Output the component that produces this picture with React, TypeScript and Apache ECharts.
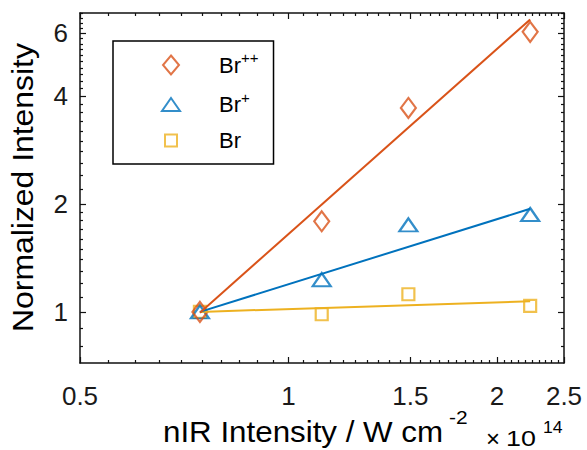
import React, { useEffect, useRef } from 'react';
import * as echarts from 'echarts';

// nIR intensity (x 10^14 W cm^-2)
const intensity = [0.745, 1.117, 1.49, 2.234];
// normalized ion yields
const brPP = [1.0, 1.79, 3.71, 6.05];
const brP = [1.0, 1.23, 1.75, 1.87];
const br = [1.0, 0.985, 1.12, 1.04];
// power-law fit lines (end points)
const fitX = [0.745, 2.234];
const fitBrPP = [0.995, 6.55];
const fitBrP = [1.0, 1.94];
const fitBr = [1.0, 1.07];
// axis ticks
const xMajor = [0.5, 1, 1.5, 2, 2.5];
const yMajor = [1, 2, 4, 6];

const C_PP = '#D95319';
const C_P = '#0072BD';
const C_BR = '#EDB120';
const FONT = '"Liberation Sans", Arial, Helvetica, sans-serif';
const AX = '#111';

function steps(a: number, b: number, s: number): number[] {
  const out: number[] = [];
  for (let v = a; v <= b + 1e-9; v += s) out.push(Math.round(v * 1000) / 1000);
  return out;
}
const notMajor = (maj: number[]) => (v: number) => !maj.some((m) => Math.abs(m - v) < 1e-6);
const xMinor = steps(0.55, 2.45, 0.05).filter(notMajor(xMajor));
const yMinor = [...steps(0.8, 1.9, 0.1), ...steps(2.2, 6.8, 0.2)].filter(notMajor(yMajor));

const pairs = (xs: number[], ys: number[]) => xs.map((x, i) => [x, ys[i]]);

function xAxisDef(position: 'bottom' | 'top', major: boolean, labels: boolean) {
  return {
    type: 'log',
    logBase: 10,
    min: 0.5,
    max: 2.5,
    gridIndex: 0,
    position,
    splitLine: { show: false },
    axisLine: { show: major, lineStyle: { color: AX, width: 1.5 } },
    axisTick: {
      show: true,
      inside: true,
      length: major ? 6 : 3,
      customValues: major ? xMajor : xMinor,
      lineStyle: { color: AX, width: 1.2 },
    },
    axisLabel: labels
      ? {
          show: true,
          customValues: xMajor,
          margin: 20,
          fontSize: 26,
          fontFamily: FONT,
          color: '#1a1a1a',
          formatter: (v: number) => String(Math.round(v * 100) / 100),
        }
      : { show: false },
  };
}

function yAxisDef(position: 'left' | 'right', major: boolean, labels: boolean) {
  return {
    type: 'log',
    logBase: 10,
    min: 0.72,
    max: 6.83,
    gridIndex: 0,
    position,
    splitLine: { show: false },
    axisLine: { show: major, lineStyle: { color: AX, width: 1.5 } },
    axisTick: {
      show: true,
      inside: true,
      length: major ? 6 : 3,
      customValues: major ? yMajor : yMinor,
      lineStyle: { color: AX, width: 1.2 },
    },
    axisLabel: labels
      ? {
          show: true,
          customValues: yMajor,
          margin: 12,
          fontSize: 26,
          fontFamily: FONT,
          color: '#1a1a1a',
          formatter: (v: number) => String(Math.round(v * 100) / 100),
        }
      : { show: false },
  };
}

function scatter(name: string, ys: number[], color: string, symbol: string, size: number[] | number) {
  return {
    type: 'scatter',
    name,
    xAxisIndex: 0,
    yAxisIndex: 0,
    data: pairs(intensity, ys),
    symbol,
    symbolSize: size,
    itemStyle: { color: 'rgba(0,0,0,0)', borderColor: color, borderWidth: 2.2 },
    emphasis: { disabled: true },
  };
}

function fit(name: string, ys: number[], color: string) {
  return {
    type: 'line',
    name,
    xAxisIndex: 0,
    yAxisIndex: 0,
    data: pairs(fitX, ys),
    showSymbol: false,
    symbol: 'none',
    lineStyle: { color, width: 2 },
    itemStyle: { color },
    emphasis: { disabled: true },
  };
}

export default function App() {
  const ref = useRef<HTMLDivElement>(null);
  useEffect(() => {
    if (!ref.current) return;
    document.body.style.margin = '0';
    const chart = echarts.init(ref.current, undefined, { renderer: 'svg' });
    const option: any = {
      animation: false,
      backgroundColor: '#fff',
      grid: { left: 80, top: 13, width: 484, height: 350, containLabel: false, outerBoundsMode: 'none' },
      xAxis: [
        xAxisDef('bottom', true, true),
        xAxisDef('bottom', false, false),
        xAxisDef('top', true, false),
        xAxisDef('top', false, false),
      ],
      yAxis: [
        yAxisDef('left', true, true),
        yAxisDef('left', false, false),
        yAxisDef('right', true, false),
        yAxisDef('right', false, false),
      ],
      legend: {
        show: true,
        orient: 'vertical',
        left: 113,
        top: 41,
        padding: [9, 15, 12, 47],
        itemGap: 13,
        itemWidth: 20,
        itemHeight: 21,
        borderColor: '#000',
        borderWidth: 1.5,
        backgroundColor: '#fff',
        selectedMode: false,
        data: [
          {
            name: 'Br++',
            icon: 'path://M0,0M20,21M10,1L18,10.5L10,20L2,10.5Z',
            itemStyle: { color: 'rgba(0,0,0,0)', borderColor: C_PP, borderWidth: 2 },
          },
          {
            name: 'Br+',
            icon: 'path://M0,0M20,21M10,4L19,17L1,17Z',
            itemStyle: { color: 'rgba(0,0,0,0)', borderColor: C_P, borderWidth: 2 },
          },
          {
            name: 'Br',
            icon: 'path://M0,0M20,21M4,4.5L16,4.5L16,16.5L4,16.5Z',
            itemStyle: { color: 'rgba(0,0,0,0)', borderColor: C_BR, borderWidth: 2 },
          },
        ],
        formatter: (name: string) => {
          const sup = name.slice(2);
          return sup ? `{sp|}{b|Br}{s|${sup}}` : '{sp|}{b|Br}';
        },
        textStyle: {
          fontFamily: FONT,
          color: '#000',
          rich: {
            sp: { width: 33 },
            b: { fontSize: 22, lineHeight: 30, fontFamily: FONT, color: '#000' },
            s: { fontSize: 15, lineHeight: 12, verticalAlign: 'top', fontFamily: FONT, color: '#000' },
          },
        },
      },
      graphic: [
        {
          type: 'text',
          x: 23,
          y: 187.5,
          rotation: Math.PI / 2,
          scaleX: 1.1,
          style: {
            text: 'Normalized Intensity',
            fontSize: 29,
            fontFamily: FONT,
            fill: '#000',
            align: 'center',
            verticalAlign: 'middle',
          },
        },
        {
          type: 'text',
          x: 163,
          y: 432,
          scaleX: 1.08,
          style: {
            text: 'nIR Intensity / W cm',
            fontSize: 29,
            fontFamily: FONT,
            fill: '#000',
            align: 'left',
            verticalAlign: 'middle',
          },
        },
        {
          type: 'text',
          x: 449,
          y: 417.5,
          scaleX: 1.1,
          style: { text: '-2', fontSize: 19, fontFamily: FONT, fill: '#000', align: 'left', verticalAlign: 'middle' },
        },
        {
          type: 'text',
          x: 486,
          y: 438,
          style: { text: '×', fontSize: 24, fontFamily: FONT, fill: '#000', align: 'left', verticalAlign: 'middle' },
        },
        {
          type: 'text',
          x: 506,
          y: 438.5,
          scaleX: 1.22,
          style: { text: '10', fontSize: 22, fontFamily: FONT, fill: '#000', align: 'left', verticalAlign: 'middle' },
        },
        {
          type: 'text',
          x: 543,
          y: 428,
          scaleX: 1.1,
          style: { text: '14', fontSize: 16, fontFamily: FONT, fill: '#000', align: 'left', verticalAlign: 'middle' },
        },
      ],
      series: [
        scatter('Br', br, C_BR, 'rect', 12),
        fit('Br fit', fitBr, C_BR),
        scatter('Br+', brP, C_P, 'triangle', [18, 13]),
        fit('Br+ fit', fitBrP, C_P),
        scatter('Br++', brPP, C_PP, 'diamond', [15, 20]),
        fit('Br++ fit', fitBrPP, C_PP),
      ],
    };
    chart.setOption(option);
    return () => chart.dispose();
  }, []);
  return <div ref={ref} style={{ width: 587, height: 450 }} />;
}
